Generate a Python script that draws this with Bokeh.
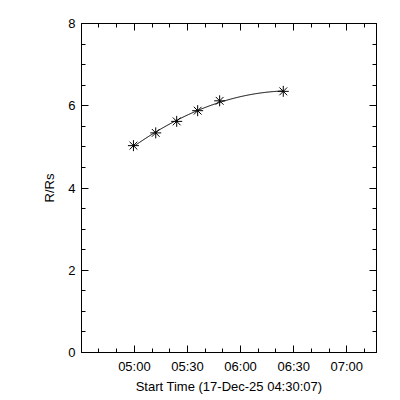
import numpy as np
from bokeh.plotting import figure
from bokeh.models import FixedTicker, LinearAxis, Range1d
from bokeh.embed import file_html
from bokeh.resources import INLINE

# ---- data ----
start_time = "04:30:07"
start_label = "Start Time (17-Dec-25 04:30:07)"
obs_times = ["04:59:28", "05:12:03", "05:23:54", "05:35:45", "05:48:10", "06:24:07"]
r_rs = [5.03, 5.34, 5.62, 5.88, 6.12, 6.35]
x_tick_labels = ["05:00", "05:30", "06:00", "06:30", "07:00"]
y_ticks = [0, 2, 4, 6, 8]


def secs(hms):
    h, m, s = (int(v) for v in hms.split(":"))
    return h * 3600 + m * 60 + s


t0 = secs(start_time)
t = np.array([secs(s) - t0 for s in obs_times], dtype=float)
y = np.array(r_rs)

# quadratic fit of the height-time points (as in the original plot)
coef = np.polyfit(t, y, 2)
tf = np.linspace(t.min(), t.max(), 200)
yf = np.polyval(coef, tf)

# tick positions (seconds from start)
xt = [secs(l + ":00") - t0 for l in x_tick_labels]
minor_x = list(np.arange(xt[0] - 1200, 10000, 600))
minor_y = list(np.arange(0, 8.01, 0.5))

FONT = "Liberation Sans"

p = figure(frame_width=295, frame_height=329, output_backend="svg",
           toolbar_location=None, x_range=Range1d(0, 10000), y_range=Range1d(0, 8),
           min_border_left=81, min_border_right=18, min_border_top=23, min_border_bottom=40,
           x_axis_type=None, y_axis_type=None)
p.background_fill_color = "white"
p.border_fill_color = "white"
p.outline_line_color = "black"
p.outline_line_width = 1
p.xgrid.visible = False
p.ygrid.visible = False

xticker = FixedTicker(ticks=xt, minor_ticks=minor_x)
yticker = FixedTicker(ticks=y_ticks, minor_ticks=minor_y)


def style(ax, labels=True):
    ax.major_tick_in = 7
    ax.major_tick_out = 0
    ax.minor_tick_in = 4
    ax.minor_tick_out = 0
    ax.axis_line_color = "black"
    ax.major_tick_line_color = "black"
    ax.minor_tick_line_color = "black"
    ax.major_label_text_font = FONT
    ax.major_label_text_font_size = "13px"
    ax.major_label_text_color = "black"
    ax.axis_label_text_font = FONT
    ax.axis_label_text_font_size = "13px"
    ax.axis_label_text_font_style = "normal"
    ax.axis_label_text_color = "black"
    if not labels:
        ax.major_label_text_alpha = 0
        ax.major_label_text_font_size = "1px"


xb = LinearAxis(ticker=xticker, axis_label=start_label)
xb.major_label_overrides = {v: l for v, l in zip(xt, x_tick_labels)}
style(xb)
xb.major_label_standoff = 6
xb.axis_label_standoff = 2
p.add_layout(xb, "below")

yl = LinearAxis(ticker=yticker, axis_label="R/Rs")
style(yl)
yl.major_label_standoff = 6
yl.axis_label_standoff = 8
p.add_layout(yl, "left")

xa = LinearAxis(ticker=xticker)
style(xa, labels=False)
p.add_layout(xa, "above")

yr = LinearAxis(ticker=yticker)
style(yr, labels=False)
p.add_layout(yr, "right")

p.line(tf, yf, line_color="black", line_width=1)
p.scatter(t, y, marker="asterisk", size=11, line_color="black", line_width=1)

open("out.html", "w").write(file_html(p, INLINE))
